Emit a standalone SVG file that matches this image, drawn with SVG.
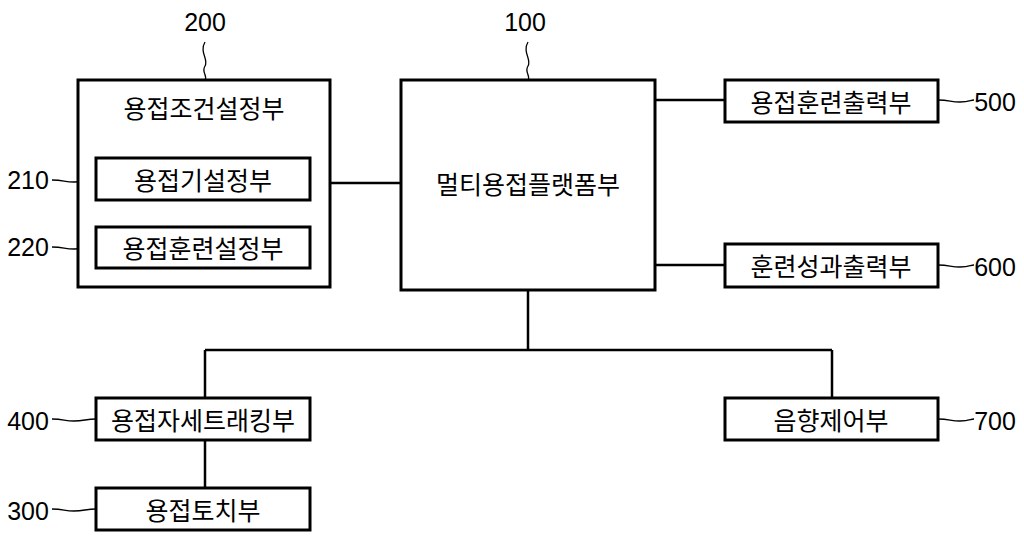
<svg xmlns="http://www.w3.org/2000/svg" width="1024" height="545" viewBox="0 0 1024 545">
<style>
rect{fill:#fff;stroke:#000;stroke-width:3}
.l{fill:none;stroke:#000;stroke-width:2.5}
.w{fill:none;stroke:#000;stroke-width:1.3}
text{font-family:"Noto Sans CJK KR","Liberation Sans",sans-serif;font-size:25px;fill:#000;text-anchor:middle;dominant-baseline:central}
.n{font-family:"Liberation Sans",sans-serif;font-size:25px}
</style>
<rect x="0" y="0" width="1024" height="545" style="fill:#fff;stroke:none"/>
<g id="connectors">
<path class="l" d="M330 183H401M655 100H725M655 265H725M528 290V350M205 350H832M205 350V398M832 350V398M205 440V488"/>
<path class="w" d="M205 42c-6 10 4 18 0 24s3 10 0 14"/>
<path class="w" d="M528 42c-6 10 4 18 0 24s3 10 0 14"/>
<path class="w" d="M52 180c12 0 12 2 22 2s12-2 22-2"/>
<path class="w" d="M52 247c12 0 12 2 22 2s12-2 22-2"/>
<path class="w" d="M52 419c12 0 12 2 22 2s12-2 22-2"/>
<path class="w" d="M52 509c12 0 12 2 22 2s12-2 22-2"/>
<path class="w" d="M938 100c12 0 12 2 22 2s10-2 14-2"/>
<path class="w" d="M938 265c12 0 12 2 22 2s10-2 14-2"/>
<path class="w" d="M938 419c12 0 12 2 22 2s10-2 14-2"/>
</g>
<g id="n200"><rect x="78" y="80" width="252" height="207"/><text x="204" y="107">용접조건설정부</text><text class="n" x="205" y="22">200</text></g>
<g id="n210"><rect x="96" y="158" width="214" height="42"/><text x="203" y="179">용접기설정부</text><text class="n" x="28" y="180">210</text></g>
<g id="n220"><rect x="96" y="227" width="214" height="41"/><text x="203" y="247">용접훈련설정부</text><text class="n" x="28" y="247">220</text></g>
<g id="n100"><rect x="401" y="80" width="254" height="210"/><text x="528" y="183">멀티용접플랫폼부</text><text class="n" x="525" y="22">100</text></g>
<g id="n500"><rect x="725" y="80" width="213" height="42"/><text x="831" y="101">용접훈련출력부</text><text class="n" x="995" y="102">500</text></g>
<g id="n600"><rect x="725" y="244" width="213" height="43"/><text x="831" y="265">훈련성과출력부</text><text class="n" x="995" y="267">600</text></g>
<g id="n400"><rect x="96" y="398" width="214" height="42"/><text x="203" y="419">용접자세트래킹부</text><text class="n" x="28" y="421">400</text></g>
<g id="n700"><rect x="725" y="398" width="213" height="42"/><text x="831" y="419">음향제어부</text><text class="n" x="995" y="421">700</text></g>
<g id="n300"><rect x="96" y="488" width="214" height="42"/><text x="203" y="509">용접토치부</text><text class="n" x="28" y="511">300</text></g>
</svg>
